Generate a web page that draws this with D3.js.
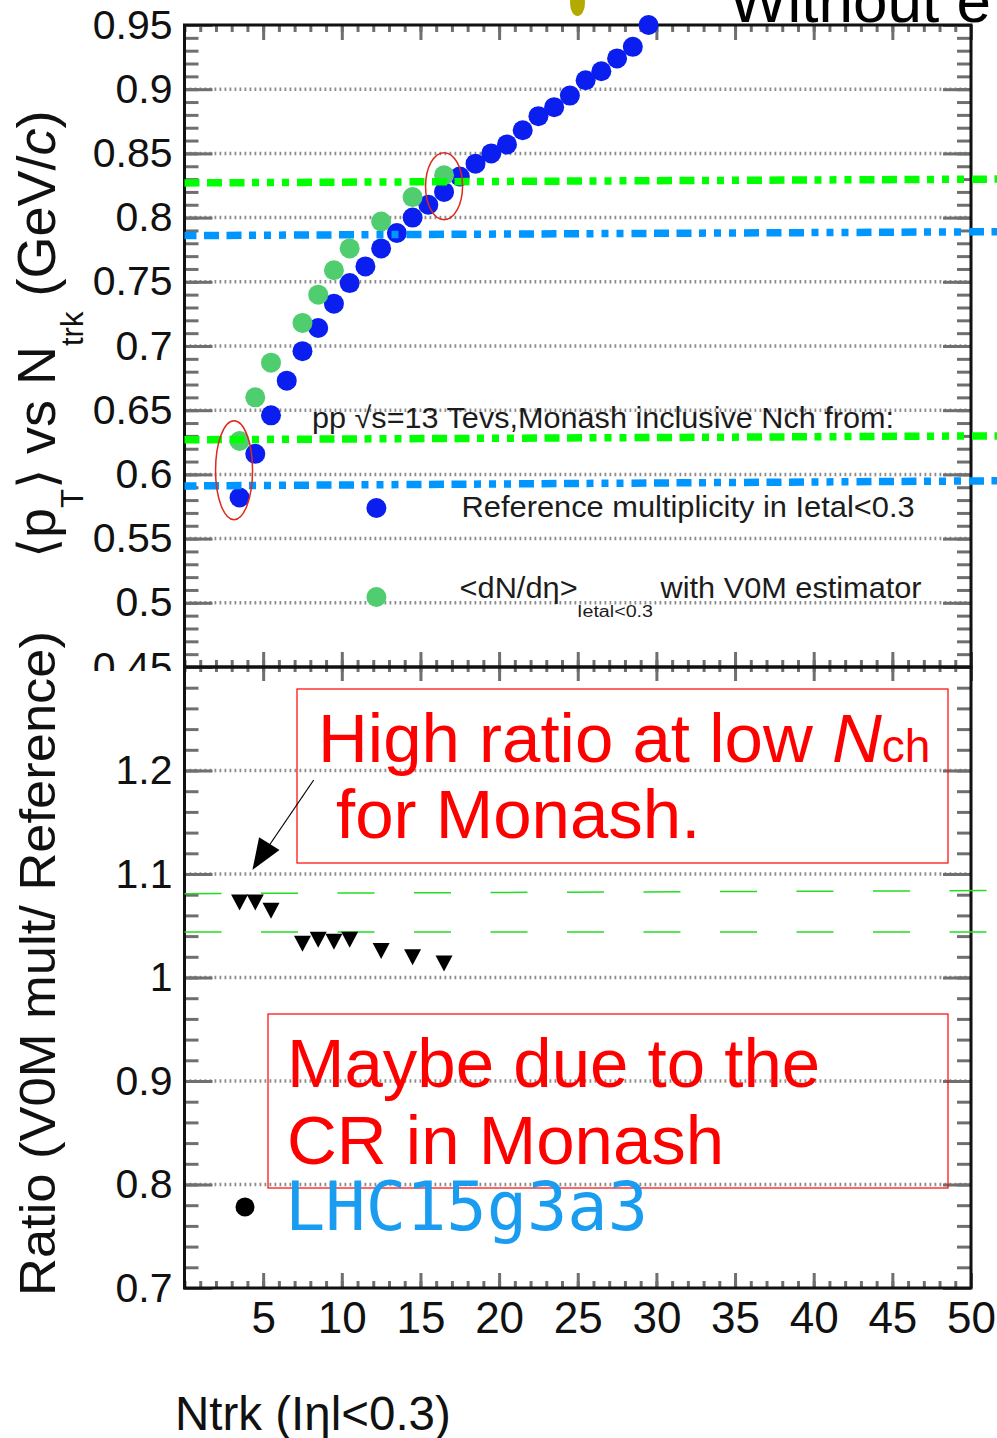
<!DOCTYPE html>
<html lang="en">
<head>
<meta charset="utf-8">
<title>mean pT vs Ntrk</title>
<script src="https://d3js.org/d3.v7.min.js"></script>
<style>
  body { margin: 0; background: #fff; }
  svg text { font-family: "Liberation Sans", Arial, Helvetica, sans-serif; }
</style>
</head>
<body>
<svg id="chart" width="997" height="1438"></svg>
<script>
// ---- data ----
var ntrkRef = [3.5, 4.5, 5.5, 6.5, 7.5, 8.5, 9.5, 10.5, 11.5, 12.5, 13.5, 14.5, 15.5, 16.5,
  17.5, 18.5, 19.5, 20.5, 21.5, 22.5, 23.5, 24.5, 25.5, 26.5, 27.5, 28.5, 29.5];
var meanPtRef = [0.582, 0.616, 0.646, 0.673, 0.696, 0.714, 0.733, 0.749, 0.762, 0.776, 0.788, 0.800, 0.810, 0.820,
  0.832, 0.842, 0.850, 0.857, 0.868, 0.879, 0.886, 0.895, 0.907, 0.914, 0.924, 0.933, 0.950];
var ntrkV0M = [3.5, 4.5, 5.5, 7.5, 8.5, 9.5, 10.5, 12.5, 14.5, 16.5];
var meanPtV0M = [0.626, 0.660, 0.687, 0.718, 0.740, 0.759, 0.776, 0.797, 0.816, 0.833];
var ratioV0M = [1.073, 1.073, 1.065, 1.033, 1.037, 1.035, 1.037, 1.026, 1.020, 1.014];

// hand drawn reference levels (left end / right end of each line)
var refLevelX = [0, 51.7];
var topRefLeft = [0.827, 0.786, 0.627, 0.591];
var topRefRight = [0.830, 0.789, 0.630, 0.595];
var topRefKind = ["V0M", "Ref", "V0M", "Ref"];
var lowRefLeft = [1.081, 1.044];
var lowRefRight = [1.084, 1.044];

var xMajor = [5, 10, 15, 20, 25, 30, 35, 40, 45, 50];
var topYLabels = [0.45, 0.5, 0.55, 0.6, 0.65, 0.7, 0.75, 0.8, 0.85, 0.9, 0.95];
var topGrid = [0.5, 0.55, 0.6, 0.65, 0.7, 0.75, 0.8, 0.85, 0.9];
var lowYLabels = [0.7, 0.8, 0.9, 1, 1.1, 1.2];
var lowGrid = [0.8, 0.9, 1, 1.1, 1.2];

// ---- layout ----
var padL = 184.5, padR = 971, padT = 25, padM = 667, padB = 1288;
var tickColor = "#6f6f6f";
var blue = "#0a1ef0", green = "#50cd6e";

var svg = d3.select("#chart");

var x = d3.scaleLinear().domain([0, 50]).range([padL, padR]);
var yTop = d3.scaleLinear().domain([0.45, 0.95]).range([padM, padT]);
var yLow = d3.scaleLinear().domain([0.7, 1.3]).range([padB, padM]);

var xMinor = d3.range(0, 51);
var topMinor = d3.range(45, 96).map(function(i) { return i / 100; });
var topMajor = d3.range(9, 20).map(function(i) { return i / 20; });
var lowMinor = d3.range(35, 66).map(function(i) { return i / 50; });
var lowMajor = d3.range(7, 14).map(function(i) { return i / 10; });

function ticks(axis, tx, ty) {
  var g = svg.append("g").attr("transform", "translate(" + tx + "," + ty + ")").call(axis);
  g.select(".domain").remove();
  g.selectAll("line").attr("stroke", tickColor).attr("stroke-width", 3);
  return g;
}

// grid lines (dotted)
svg.append("g").selectAll("line").data(topGrid).enter().append("line")
  .attr("x1", padL).attr("x2", padR)
  .attr("y1", function(d) { return yTop(d); }).attr("y2", function(d) { return yTop(d); })
  .attr("stroke", "#8c8c8c").attr("stroke-width", 3.5).attr("stroke-dasharray", "1.8,3.2");
svg.append("g").selectAll("line").data(lowGrid).enter().append("line")
  .attr("x1", padL).attr("x2", padR)
  .attr("y1", function(d) { return yLow(d); }).attr("y2", function(d) { return yLow(d); })
  .attr("stroke", "#8c8c8c").attr("stroke-width", 3.5).attr("stroke-dasharray", "1.8,3.2");

// ticks, upper pad
ticks(d3.axisRight(yTop).tickValues(topMinor).tickSize(14).tickFormat(""), padL, 0);
ticks(d3.axisRight(yTop).tickValues(topMajor).tickSize(28).tickFormat(""), padL, 0);
ticks(d3.axisLeft(yTop).tickValues(topMinor).tickSize(14).tickFormat(""), padR, 0);
ticks(d3.axisLeft(yTop).tickValues(topMajor).tickSize(28).tickFormat(""), padR, 0);
ticks(d3.axisBottom(x).tickValues(xMinor).tickSize(7).tickFormat(""), 0, padT);
ticks(d3.axisBottom(x).tickValues(xMajor).tickSize(15).tickFormat(""), 0, padT);
ticks(d3.axisTop(x).tickValues(xMinor).tickSize(7).tickFormat(""), 0, padM);
ticks(d3.axisTop(x).tickValues(xMajor).tickSize(15).tickFormat(""), 0, padM);

// ticks, lower pad
ticks(d3.axisRight(yLow).tickValues(lowMinor).tickSize(14).tickFormat(""), padL, 0);
ticks(d3.axisRight(yLow).tickValues(lowMajor).tickSize(28).tickFormat(""), padL, 0);
ticks(d3.axisLeft(yLow).tickValues(lowMinor).tickSize(14).tickFormat(""), padR, 0);
ticks(d3.axisLeft(yLow).tickValues(lowMajor).tickSize(28).tickFormat(""), padR, 0);
ticks(d3.axisBottom(x).tickValues(xMinor).tickSize(5).tickFormat(""), 0, padM);
ticks(d3.axisBottom(x).tickValues(xMajor).tickSize(14).tickFormat(""), 0, padM);
ticks(d3.axisTop(x).tickValues(xMinor).tickSize(7).tickFormat(""), 0, padB);
ticks(d3.axisTop(x).tickValues(xMajor).tickSize(15).tickFormat(""), 0, padB);

// tick labels (the lowest upper-pad label is cut by the lower pad)
svg.append("clipPath").attr("id", "topclip").append("rect")
  .attr("x", -padL).attr("y", 0).attr("width", padL).attr("height", 671);
var lblTop = ticks(d3.axisLeft(yTop).tickValues(topYLabels).tickSize(0).tickPadding(12)
  .tickFormat(function(d) { return String(+d.toFixed(2)); }), padL, 0);
lblTop.attr("clip-path", "url(#topclip)");
var lblLow = ticks(d3.axisLeft(yLow).tickValues(lowYLabels).tickSize(0).tickPadding(12)
  .tickFormat(function(d) { return String(+d.toFixed(1)); }), padL, 0);
var lblX = ticks(d3.axisBottom(x).tickValues(xMajor).tickSize(0).tickPadding(14)
  .tickFormat(function(d) { return String(d); }), 0, padB);
svg.selectAll(".tick text").attr("font-family", "Liberation Sans, Arial, sans-serif")
  .attr("fill", "#111").attr("font-size", 41);
lblX.selectAll("text").attr("font-size", 44);

// frames
svg.append("rect").attr("x", padL).attr("y", padT).attr("width", padR - padL).attr("height", padM - padT)
  .attr("fill", "none").attr("stroke", "#111").attr("stroke-width", 3);
svg.append("rect").attr("x", padL).attr("y", padM).attr("width", padR - padL).attr("height", padB - padM)
  .attr("fill", "none").attr("stroke", "#111").attr("stroke-width", 3);

// markers, upper pad
svg.append("g").selectAll("circle").data(ntrkRef).enter().append("circle")
  .attr("cx", function(d) { return x(d); })
  .attr("cy", function(d, i) { return yTop(meanPtRef[i]); })
  .attr("r", 10).attr("fill", blue);
svg.append("g").selectAll("circle").data(ntrkV0M).enter().append("circle")
  .attr("cx", function(d) { return x(d); })
  .attr("cy", function(d, i) { return yTop(meanPtV0M[i]); })
  .attr("r", 10).attr("fill", green);

// dash-dot reference lines over the markers
svg.append("g").selectAll("line").data(topRefLeft).enter().append("line")
  .attr("x1", x(refLevelX[0])).attr("x2", x(refLevelX[1]))
  .attr("y1", function(d) { return yTop(d); })
  .attr("y2", function(d, i) { return yTop(topRefRight[i]); })
  .attr("stroke", function(d, i) { return topRefKind[i] === "V0M" ? "#00ff00" : "#0096ff"; })
  .attr("stroke-width", 7.5)
  .attr("stroke-dasharray", "15,7.5,15,7.5,15,7.5,7,8,7,8,7,8")
  .attr("stroke-dashoffset", function(d, i) { return i % 2 ? 3 : 0; });

// red ellipses around the first and the matched point
svg.append("ellipse").attr("cx", x(16.5)).attr("cy", yTop(0.8245)).attr("rx", 18.5).attr("ry", 33.5)
  .attr("fill", "none").attr("stroke", "#dd2a1a").attr("stroke-width", 1.5);
svg.append("ellipse").attr("cx", x(3.15)).attr("cy", yTop(0.6033)).attr("rx", 18.5).attr("ry", 49.5)
  .attr("fill", "none").attr("stroke", "#dd2a1a").attr("stroke-width", 1.5);

// legend
var legColor = "#1c1c1c";
svg.append("text").attr("x", 312).attr("y", 428).attr("font-size", 30).attr("fill", legColor)
  .attr("textLength", 582).attr("lengthAdjust", "spacingAndGlyphs")
  .text("pp \u221As=13 Tevs,Monash inclusive Nch from:");
svg.append("circle").attr("cx", 376.4).attr("cy", 508).attr("r", 10).attr("fill", blue);
svg.append("text").attr("x", 461.6).attr("y", 517).attr("font-size", 30).attr("fill", legColor)
  .attr("textLength", 453).attr("lengthAdjust", "spacingAndGlyphs")
  .text("Reference multiplicity in Ietal<0.3");
svg.append("circle").attr("cx", 376.4).attr("cy", 597).attr("r", 10).attr("fill", green);
svg.append("text").attr("x", 459.6).attr("y", 598).attr("font-size", 30).attr("fill", legColor)
  .attr("textLength", 118).attr("lengthAdjust", "spacingAndGlyphs").text("<dN/d\u03B7>");
svg.append("text").attr("x", 577).attr("y", 616.5).attr("font-size", 16).attr("fill", legColor)
  .attr("textLength", 76).attr("lengthAdjust", "spacingAndGlyphs").text("Ietal<0.3");
svg.append("text").attr("x", 660.6).attr("y", 598).attr("font-size", 30).attr("fill", legColor)
  .attr("textLength", 261).attr("lengthAdjust", "spacingAndGlyphs").text("with V0M estimator");

// lower pad: green dashed levels and ratio triangles
svg.append("g").selectAll("line").data(lowRefLeft).enter().append("line")
  .attr("x1", x(refLevelX[0])).attr("x2", x(refLevelX[1]))
  .attr("y1", function(d) { return yLow(d); })
  .attr("y2", function(d, i) { return yLow(lowRefRight[i]); })
  .attr("stroke", "#22dd22").attr("stroke-width", 1.5).attr("stroke-dasharray", "37,39.5");

var tri = "M-8.5,-7.5L8.5,-7.5L0,8.5Z";
svg.append("g").selectAll("path").data(ntrkV0M).enter().append("path")
  .attr("d", tri)
  .attr("transform", function(d, i) { return "translate(" + x(d) + "," + yLow(ratioV0M[i]) + ")"; })
  .attr("fill", "#000");

// annotations
var red = "#ff0000";
svg.append("rect").attr("x", 297).attr("y", 689).attr("width", 651).attr("height", 174)
  .attr("fill", "none").attr("stroke", red).attr("stroke-width", 1.2);
var t1 = svg.append("text").attr("x", 318).attr("y", 762).attr("font-size", 69).attr("fill", red);
t1.append("tspan").text("High ratio at low ");
t1.append("tspan").attr("font-style", "italic").text("N");
t1.append("tspan").attr("font-size", 46).text("ch");
svg.append("text").attr("x", 336).attr("y", 838).attr("font-size", 69).attr("fill", red).text("for Monash.");

svg.append("line").attr("x1", 313.7).attr("y1", 780).attr("x2", 262).attr("y2", 856)
  .attr("stroke", "#000").attr("stroke-width", 1.2);
svg.append("path").attr("d", "M252.4,870L259.1,837.3L279.5,850Z").attr("fill", "#000");

svg.append("rect").attr("x", 268).attr("y", 1014).attr("width", 680).attr("height", 174)
  .attr("fill", "none").attr("stroke", red).attr("stroke-width", 1.2);
svg.append("text").attr("x", 287).attr("y", 1087).attr("font-size", 69).attr("fill", red).text("Maybe due to the");
svg.append("text").attr("x", 287).attr("y", 1164).attr("font-size", 69).attr("fill", red).text("CR in Monash");

svg.append("circle").attr("cx", 245).attr("cy", 1207).attr("r", 9.5).attr("fill", "#000");
svg.append("text").attr("x", 285).attr("y", 1230).attr("font-size", 67)
  .style("font-family", "'DejaVu Sans Mono', monospace").attr("fill", "#1a9cf0").text("LHC15g3a3");

// axis titles
svg.append("text").attr("x", 175).attr("y", 1430).attr("font-size", 47.5).attr("fill", "#111")
  .text("Ntrk (I\u03B7l<0.3)");

var ty = svg.append("text").attr("transform", "translate(55,558) rotate(-90)")
  .attr("font-size", 54).attr("fill", "#111");
ty.append("tspan").style("font-family", "'DejaVu Sans', sans-serif").attr("font-weight", 300)
  .attr("font-size", 52).text("\u27E8");
ty.append("tspan").text("p");
ty.append("tspan").attr("font-size", 31).attr("dy", 28).text("T");
ty.append("tspan").attr("dy", -28).style("font-family", "'DejaVu Sans', sans-serif").attr("font-weight", 300)
  .attr("font-size", 52).text("\u27E9");
ty.append("tspan").text(" vs N");
ty.append("tspan").attr("font-size", 31).attr("dy", 28).text("trk");
ty.append("tspan").attr("dy", -28).text(" (GeV/");
ty.append("tspan").attr("font-style", "italic").text("c");
ty.append("tspan").text(")");

svg.append("text").attr("transform", "translate(55,1296) rotate(-90)")
  .attr("font-size", 50).attr("fill", "#111")
  .attr("textLength", 665).attr("lengthAdjust", "spacingAndGlyphs")
  .text("Ratio (V0M mult/ Reference)");

// cut-off items along the top edge
svg.append("ellipse").attr("cx", 577.5).attr("cy", 3).attr("rx", 7.5).attr("ry", 13).attr("fill", "#b3aa00");
svg.append("text").attr("x", 729).attr("y", 22).attr("font-size", 62).attr("fill", "#000").text("Without e");
</script>
</body>
</html>
